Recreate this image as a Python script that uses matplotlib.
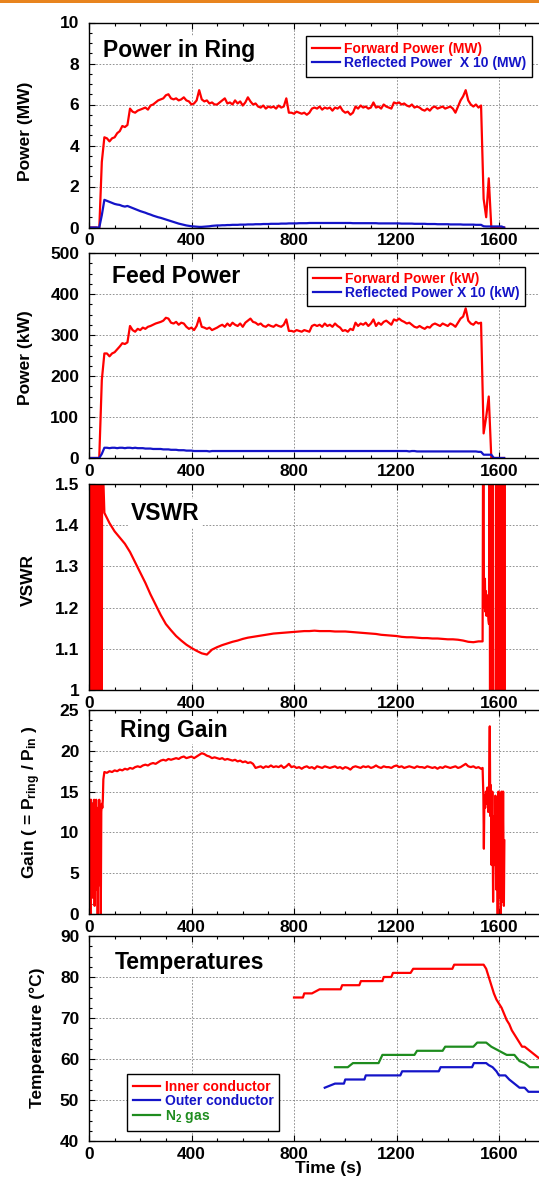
import numpy as np
import matplotlib
matplotlib.use('Agg')
import matplotlib.pyplot as plt
from matplotlib.patches import Rectangle
from matplotlib.ticker import MultipleLocator, FuncFormatter

plt.rcParams['font.family'] = ['Liberation Sans', 'DejaVu Sans']
plt.rcParams['font.weight'] = 'bold'
plt.rcParams['mathtext.fontset'] = 'custom'
plt.rcParams['mathtext.rm'] = 'Liberation Sans:bold'
plt.rcParams['mathtext.it'] = 'Liberation Sans:bold'
plt.rcParams['mathtext.bf'] = 'Liberation Sans:bold'
plt.rcParams['mathtext.default'] = 'rm'

# ---------------- data ----------------
# power traces, sampled every 10 s (0 .. 1620 s)
t_pow = np.arange(0, 1630, 10)

ring_fwd = [  # MW
    0, 0, 0, 0, -0.1, 3.2, 4.4, 4.35, 4.2, 4.35,
    4.4, 4.6, 4.7, 4.95, 4.9, 5.0, 5.8, 5.65, 5.6, 5.7,
    5.75, 5.8, 5.85, 5.75, 5.95, 6.0, 6.1, 6.2, 6.25, 6.3,
    6.45, 6.5, 6.3, 6.25, 6.3, 6.2, 6.25, 6.35, 6.2, 6.15,
    6.0, 6.05, 6.2, 6.7, 6.25, 6.15, 6.2, 6.05, 6.1, 6.0,
    6.0, 6.1, 6.2, 6.3, 6.05, 6.1, 6.0, 6.2, 6.05, 6.15,
    5.95, 6.1, 6.35, 6.15, 6.0, 6.05, 5.9, 5.85, 5.95, 5.8,
    5.9, 5.85, 5.9, 5.8, 5.95, 5.85, 5.9, 6.3, 5.6, 5.6,
    5.55, 5.65, 5.6, 5.55, 5.6, 5.5, 5.6, 5.8, 5.85, 5.8,
    5.9, 5.75, 5.85, 5.8, 5.85, 5.7, 5.85, 5.8, 5.9, 5.7,
    5.6, 5.65, 5.5, 5.6, 5.9, 5.8, 5.95, 5.85, 5.9, 5.8,
    5.85, 6.1, 5.85, 5.9, 5.8, 6.0, 5.9, 5.85, 5.8, 6.1,
    6.05, 6.1, 6.0, 6.05, 5.95, 5.9, 6.0, 5.85, 5.9, 5.85,
    5.75, 5.7, 5.8, 5.7, 5.85, 5.9, 5.8, 5.85, 5.9, 5.8,
    5.85, 5.9, 5.8, 5.6, 5.9, 6.2, 6.4, 6.7, 6.2, 6.0,
    5.9, 6.0, 5.85, 5.95, 1.4, 0.5, 2.4, 0.0, 0.0, 0.0,
    0.0, 0.0, 0.0]

ring_refl = [  # MW x 10
    0, 0, 0, 0, 0, 0.6, 1.35, 1.3, 1.25, 1.2,
    1.15, 1.12, 1.1, 1.05, 1.02, 1.05, 1.0, 0.95, 0.9, 0.85,
    0.8, 0.76, 0.72, 0.67, 0.63, 0.58, 0.54, 0.5, 0.47, 0.43,
    0.39, 0.35, 0.31, 0.27, 0.23, 0.19, 0.16, 0.13, 0.1, 0.08,
    0.06, 0.05, 0.04, 0.03, 0.03, 0.04, 0.05, 0.06, 0.08, 0.09,
    0.1, 0.1, 0.11, 0.11, 0.12, 0.12, 0.13, 0.13, 0.13, 0.14,
    0.14, 0.14, 0.15, 0.15, 0.15, 0.16, 0.16, 0.16, 0.17, 0.17,
    0.17, 0.18, 0.18, 0.18, 0.18, 0.19, 0.19, 0.19, 0.2, 0.2,
    0.2, 0.2, 0.21, 0.21, 0.21, 0.21, 0.22, 0.22, 0.22, 0.22,
    0.22, 0.22, 0.22, 0.22, 0.22, 0.22, 0.22, 0.22, 0.22, 0.22,
    0.22, 0.22, 0.22, 0.21, 0.21, 0.21, 0.21, 0.21, 0.21, 0.21,
    0.21, 0.21, 0.21, 0.2, 0.2, 0.2, 0.2, 0.2, 0.2, 0.2,
    0.2, 0.2, 0.19, 0.19, 0.19, 0.19, 0.19, 0.18, 0.18, 0.18,
    0.18, 0.18, 0.17, 0.17, 0.17, 0.17, 0.16, 0.16, 0.16, 0.16,
    0.16, 0.15, 0.15, 0.15, 0.15, 0.15, 0.14, 0.14, 0.14, 0.14,
    0.14, 0.13, 0.13, 0.13, 0.06, 0.05, 0.05, 0.05, 0.05, 0.05,
    0.05, 0.05, 0.0]

feed_fwd = [  # kW
    0, 0, 0, 0, 0, 190, 255, 255, 248, 255,
    258, 265, 272, 280, 278, 282, 322, 312, 308, 315,
    312, 318, 315, 320, 322, 325, 328, 330, 332, 335,
    342, 340, 330, 328, 332, 325, 330, 328, 320, 315,
    318, 312, 322, 342, 320, 318, 315, 318, 312, 315,
    318, 322, 325, 320, 328, 322, 330, 325, 322, 328,
    320, 330, 335, 340, 332, 330, 325, 328, 322, 320,
    325, 322, 320, 325, 322, 320, 325, 338, 310, 310,
    308, 312, 310, 308, 312, 310, 308, 322, 325, 322,
    325, 320, 328, 322, 325, 320, 328, 322, 318, 310,
    312, 308, 315, 312, 330, 322, 328, 325, 330, 322,
    328, 338, 322, 330, 325, 332, 335, 330, 325, 338,
    335, 340, 335, 332, 328, 330, 325, 320, 318, 322,
    318, 315, 320, 318, 325, 328, 325, 322, 328, 325,
    322, 328, 325, 320, 330, 340, 345, 365, 335, 328,
    325, 332, 328, 330, 60, 100, 150, 0, 0, 0,
    0, 0, 0]

feed_refl = [  # kW x 10
    0, 0, 0, 0, 0, 10, 25, 25, 24, 25,
    25, 24, 25, 25, 24, 25, 25, 24, 25, 24,
    24, 24, 23, 23, 23, 22, 22, 22, 22, 21,
    21, 21, 20, 20, 20, 19, 19, 19, 18, 18,
    18, 17, 17, 17, 17, 17, 17, 16, 17, 17,
    17, 17, 17, 17, 17, 17, 17, 17, 17, 17,
    17, 17, 17, 17, 17, 17, 17, 17, 17, 17,
    17, 17, 17, 17, 17, 17, 17, 17, 17, 17,
    17, 17, 17, 17, 17, 17, 17, 17, 17, 17,
    17, 17, 17, 17, 17, 17, 17, 17, 17, 17,
    17, 17, 17, 17, 17, 17, 17, 17, 17, 17,
    17, 17, 17, 17, 17, 17, 17, 17, 17, 17,
    17, 17, 17, 17, 17, 16, 17, 17, 16, 16,
    16, 16, 16, 16, 16, 16, 16, 16, 16, 16,
    16, 16, 16, 16, 16, 16, 16, 16, 16, 16,
    16, 16, 15, 15, 8, 8, 8, 8, 0, 0,
    0, 0, 0]

# VSWR: unstable start, smooth middle (every 20 s), unstable end
vswr_t_start = np.arange(0, 56, 2)
vswr_start = [1.8, 0.95, 2.1, 0.98, 1.6, 0.95, 2.5, 1.0, 1.7, 0.96,
              2.2, 0.97, 1.9, 0.95, 2.4, 1.0, 1.6, 0.95, 2.0, 0.97,
              1.8, 0.95, 2.3, 0.99, 1.7, 0.96, 2.0, 1.55]
vswr_t_mid = np.arange(60, 1540, 20)
vswr_mid = [1.430, 1.405, 1.385, 1.370, 1.355, 1.335, 1.310, 1.285, 1.260, 1.232,
            1.207, 1.182, 1.160, 1.145, 1.131, 1.120, 1.110, 1.102, 1.095, 1.089,
            1.086, 1.098, 1.104, 1.109, 1.113, 1.117, 1.120, 1.124, 1.127, 1.129,
            1.131, 1.133, 1.135, 1.137, 1.138, 1.139, 1.140, 1.141, 1.142, 1.143,
            1.143, 1.144, 1.143, 1.143, 1.143, 1.142, 1.142, 1.142, 1.141, 1.140,
            1.139, 1.138, 1.137, 1.136, 1.134, 1.133, 1.132, 1.131, 1.129, 1.128,
            1.128, 1.127, 1.126, 1.126, 1.125, 1.125, 1.124, 1.123, 1.123, 1.122,
            1.120, 1.117, 1.116, 1.118]
vswr_t_end = [1536, 1539] + list(range(1541, 1579, 2)) + list(range(1587, 1625, 2))
vswr_end = [1.118, 1.9,
            1.28, 1.2, 1.27, 1.19, 1.24, 1.18, 1.23, 1.19, 1.2, 1.17, 1.16,
            1.9, 0.9, 1.9, 0.9, 2.0, 0.9, 1.8, 0.9,
            0.9, 2.0, 0.9, 1.9, 0.9, 2.1, 0.9, 1.8, 0.9, 2.0,
            0.9, 1.9, 0.9, 2.2, 0.9, 1.8, 0.9, 2.0, 0.9]

# ring gain
gain_t_start = np.arange(0, 58, 2)
gain_start = [9.5, 2.0, 14.0, 0.0, 14.0, 4.0, 10.0, 2.0, 13.5, 6.0,
              14.0, 1.0, 9.0, 3.0, 14.0, 7.0, 13.0, 0.0, 12.0, 3.5,
              14.0, 6.0, 10.0, 0.0, 12.5, 13.5, 13.0, 14.0, 16.5]
gain_t_mid = np.arange(60, 1540, 10)
gain_mid = [17.4, 17.3, 17.5, 17.4,
            17.6, 17.5, 17.7, 17.6, 17.8, 17.7, 17.9, 17.8, 18.0, 18.1,
            18.0, 18.2, 18.3, 18.2, 18.4, 18.5, 18.4, 18.6, 18.8, 18.9,
            18.8, 19.0, 18.9, 19.0, 19.1, 19.0, 19.2, 19.3, 19.1, 19.2,
            19.3, 19.1, 19.3, 19.5, 19.7, 19.6, 19.4, 19.3, 19.1, 19.2,
            19.1, 19.0, 19.1, 18.9, 19.0, 18.9, 18.8, 18.9, 18.7, 18.8,
            18.6, 18.7, 18.5, 18.6, 18.4, 17.9, 18.0, 18.1, 17.9, 18.1,
            18.0, 18.2, 18.0, 18.1, 18.0, 18.2, 17.9, 18.1, 18.4, 18.0,
            18.1, 17.9, 18.0, 17.8, 18.0, 18.1, 17.9, 18.0, 17.8, 18.1,
            18.0, 17.9, 18.1, 18.0, 17.9, 18.0, 18.1, 17.9, 18.0, 17.8,
            18.0, 17.9, 17.7, 18.0, 18.1, 18.0, 17.9, 18.1, 18.0, 18.1,
            17.9, 18.0, 18.2, 18.0, 17.9, 18.1, 18.0, 18.0, 17.9, 18.1,
            18.2, 18.0, 18.1, 17.9, 18.0, 18.1, 18.0, 17.9, 18.1, 18.0,
            18.0, 17.9, 18.1, 18.0, 17.9, 18.0, 17.8, 18.0, 17.9, 18.1,
            18.0, 17.9, 18.0, 18.1, 17.9, 18.0, 18.2, 18.4, 18.1, 18.0,
            18.1, 17.9, 18.0, 17.8]
gain_t_end = [1536, 1539, 1541, 1543, 1546, 1549, 1552, 1555, 1558, 1561,
              1564, 1566, 1568, 1571, 1574, 1577, 1580, 1583, 1586, 1589,
              1592, 1595, 1598, 1601, 1604, 1607, 1610, 1613, 1616, 1619, 1621]
gain_end = [17.9, 14.5, 8.0, 14.5, 13.0, 15.0, 13.5, 15.5, 12.5, 14.5,
            23.0, 12.0, 15.8, 6.0, 15.0, 1.5, 12.0, 6.0, 14.5, 3.0,
            12.0, 0.0, 15.0, 2.0, 13.0, 0.0, 15.0, 1.5, 15.0, 1.0, 9.0]

# temperatures (deg C)
t_inner = [800, 835, 840, 870, 900, 982, 988, 1055, 1061, 1145,
           1150, 1180, 1186, 1255, 1265, 1418, 1425, 1540, 1550, 1560,
           1570, 1580, 1590, 1600, 1610, 1620, 1630, 1640, 1650, 1660,
           1670, 1680, 1690, 1700, 1710, 1720, 1730, 1740, 1750, 1760, 1780]
temp_inner = [75, 75, 76, 76, 77, 77, 78, 78, 79, 79,
              80, 80, 81, 81, 82, 82, 83, 83, 82, 80,
              78, 76, 74.5, 73.5, 72.5, 71, 69.5, 68.5, 67, 66,
              65, 64, 63, 63, 62.5, 62, 61.5, 61, 60.5, 60, 59]
t_outer = [920, 940, 960, 995, 1000, 1075, 1080, 1215, 1222, 1365,
           1372, 1495, 1502, 1550, 1560, 1575, 1590, 1600, 1625, 1640,
           1660, 1680, 1700, 1715, 1780]
temp_outer = [53, 53.5, 54, 54, 55, 55, 56, 56, 57, 57,
              58, 58, 59, 59, 58.5, 58, 57, 56, 56, 55,
              54, 53, 53, 52, 52]
t_gas = [960, 1010, 1030, 1130, 1145, 1270, 1280, 1380, 1390, 1500,
         1515, 1550, 1570, 1600, 1630, 1660, 1680, 1700, 1720, 1780]
temp_gas = [58, 58, 59, 59, 61, 61, 62, 62, 63, 63,
            64, 64, 63, 62, 61, 61, 59.5, 59, 58, 58]

RED = '#ff0000'
BLUE = '#1414c8'
GREEN = '#1e8c1e'

# ---------------- figure ----------------
W, H = 539, 1179
fig = plt.figure(figsize=(W / 100, H / 100), dpi=100)
fig.add_artist(Rectangle((0, 1 - 3 / H), 1, 3 / H, transform=fig.transFigure,
                         color='#e8841e', lw=0))

panels = [(22.5, 227.5), (253, 458), (484, 690), (710, 914), (936, 1141)]
axes = []
for top, bot in panels:
    axes.append(fig.add_axes([89 / W, 1 - bot / H, 461.25 / W, (bot - top) / H]))


def style(ax, ylim, ymaj, ymin):
    ax.set_xlim(0, 1800)
    ax.set_ylim(*ylim)
    ax.xaxis.set_major_locator(MultipleLocator(400))
    ax.xaxis.set_minor_locator(MultipleLocator(100))
    ax.yaxis.set_major_locator(MultipleLocator(ymaj))
    ax.yaxis.set_minor_locator(MultipleLocator(ymin))
    ax.yaxis.set_major_formatter(FuncFormatter(lambda v, p: '%g' % v))
    ax.tick_params(which='both', direction='in', top=True, right=True,
                   labelsize=12.5, width=0.8)
    ax.tick_params(which='major', length=4)
    ax.tick_params(which='minor', length=2.5)
    ax.tick_params(axis='y', pad=7)
    ax.tick_params(axis='x', pad=4)
    ax.grid(which='major', color='#808080', linestyle=(0, (2, 2)), linewidth=0.6)
    for s in ax.spines.values():
        s.set_linewidth(1.0)


def title(ax, x, y, s):
    ax.text(x, y, s, transform=ax.transAxes, fontsize=16.5, fontweight='bold',
            va='baseline', ha='left', zorder=5,
            bbox=dict(facecolor='white', edgecolor='none', pad=2))


def legend(ax, x, y, size, pad):
    leg = ax.legend(loc='upper left', bbox_to_anchor=(x, y), frameon=True,
                    fancybox=False, edgecolor='black', framealpha=1,
                    prop={'weight': 'bold', 'size': size}, handlelength=2.0,
                    handletextpad=0.3, labelspacing=0.0, borderpad=pad,
                    borderaxespad=0)
    leg.get_frame().set_linewidth(1.0)
    for txt, line in zip(leg.get_texts(), leg.get_lines()):
        txt.set_color(line.get_color())


lw = 1.6

# 1. power in ring
ax = axes[0]
ax.plot(t_pow, ring_fwd, color=RED, lw=lw, label='Forward Power (MW)')
ax.plot(t_pow, ring_refl, color=BLUE, lw=lw, label='Reflected Power  X 10 (MW)')
style(ax, (0, 10), 2, 0.5)
title(ax, 0.030, 0.833, 'Power in Ring')
legend(ax, 0.470, 0.934, 10, 0.45)
ax.set_ylabel('Power (MW)', fontsize=12.5, fontweight='bold')
ax.yaxis.set_label_coords(-0.122, 0.47)

# 2. feed power
ax = axes[1]
ax.plot(t_pow, feed_fwd, color=RED, lw=lw, label='Forward Power (kW)')
ax.plot(t_pow, feed_refl, color=BLUE, lw=lw, label='Reflected Power X 10 (kW)')
style(ax, (0, 500), 100, 25)
title(ax, 0.049, 0.852, 'Feed Power')
legend(ax, 0.473, 0.933, 10, 0.4)
ax.set_ylabel('Power (kW)', fontsize=12.5, fontweight='bold')
ax.yaxis.set_label_coords(-0.121, 0.49)

# 3. VSWR
ax = axes[2]
ax.plot(np.concatenate([vswr_t_start, vswr_t_mid, vswr_t_end]),
        np.concatenate([vswr_start, vswr_mid, vswr_end]), color=RED, lw=lw)
style(ax, (1, 1.5), 0.1, 0.025)
title(ax, 0.090, 0.825, 'VSWR')
ax.set_ylabel('VSWR', fontsize=12.5, fontweight='bold')
ax.yaxis.set_label_coords(-0.115, 0.536)

# 4. ring gain
ax = axes[3]
ax.plot(np.concatenate([gain_t_start, gain_t_mid, gain_t_end]),
        np.concatenate([gain_start, gain_mid, gain_end]), color=RED, lw=lw)
style(ax, (0, 25), 5, 1.25)
title(ax, 0.067, 0.869, 'Ring Gain')
ax.set_ylabel(r'Gain ( = P$_{ring}$ / P$_{in}$ )', fontsize=12.5, fontweight='bold')
ax.yaxis.set_label_coords(-0.10, 0.547)

# 5. temperatures
ax = axes[4]
ax.plot(t_inner, temp_inner, color=RED, lw=lw, label='Inner conductor')
ax.plot(t_outer, temp_outer, color=BLUE, lw=lw, label='Outer conductor')
ax.plot(t_gas, temp_gas, color=GREEN, lw=lw, label=r'N$_2$ gas')
style(ax, (40, 90), 10, 2.5)
title(ax, 0.055, 0.839, 'Temperatures')
legend(ax, 0.082, 0.327, 10, 0.42)
ax.set_ylabel('Temperature (°C)', fontsize=12.5, fontweight='bold')
ax.yaxis.set_label_coords(-0.095, 0.505)
ax.set_xlabel('Time (s)', fontsize=12.5, fontweight='bold')
ax.xaxis.set_label_coords(0.52, -0.10)

fig.savefig('out.png', dpi=100)
